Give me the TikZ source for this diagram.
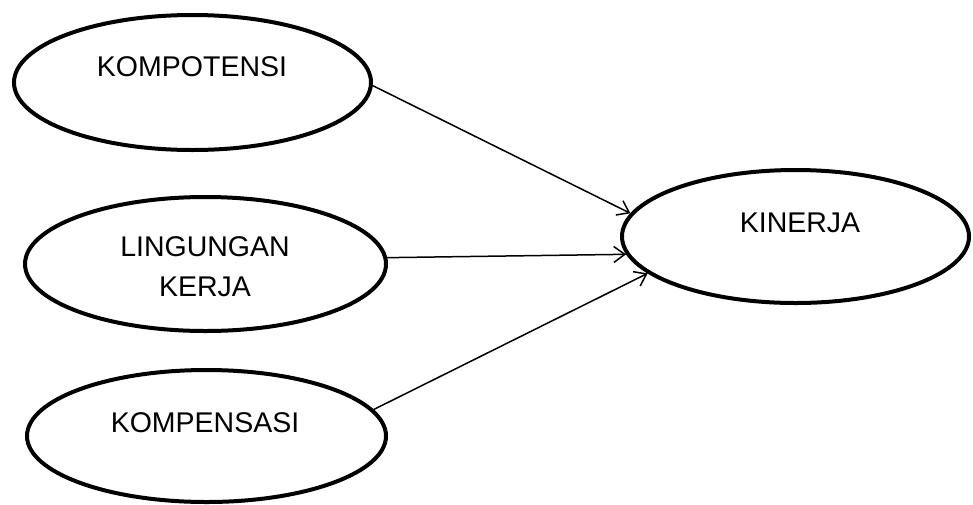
\documentclass[tikz,border=0pt]{standalone}
\usepackage{fontspec}
\setmainfont{Liberation Sans}
\usetikzlibrary{shapes.geometric,arrows.meta}
\begin{document}
\begin{tikzpicture}[x=1pt,y=-1pt,
  oval/.style={draw,ellipse,line width=4pt,inner sep=0pt},
  lbl/.style={font=\fontsize{28.5}{40}\selectfont,align=center,inner sep=0pt},
  arr/.style={line width=1.5pt,-{Straight Barb[length=11pt,width=16pt,line width=1.5pt]}}]
\useasboundingbox (0,0) rectangle (973,504);
\node[oval,minimum width=357pt,minimum height=135pt] (k1) at (192.5,82.5) {};
\node[oval,minimum width=361pt,minimum height=134pt] (k2) at (205.5,264) {};
\node[oval,minimum width=359pt,minimum height=132pt] (k3) at (206.5,436) {};
\node[oval,minimum width=347pt,minimum height=133pt] (kin) at (795.5,236.5) {};
\node[lbl] (t1) at (192,67) {KOMPOTENSI};
\node[lbl] (t2) at (205,267) {LINGUNGAN\\KERJA};
\node[lbl] (t3) at (205,423) {KOMPENSASI};
\node[lbl] (t4) at (800,223) {KINERJA};
\draw[arr] (k1.-1) -- (kin.172);
\draw[arr] (k2.2.8) -- (kin.186.3);
\draw[arr] (k3.9) -- (kin.194);
\end{tikzpicture}
\end{document}
